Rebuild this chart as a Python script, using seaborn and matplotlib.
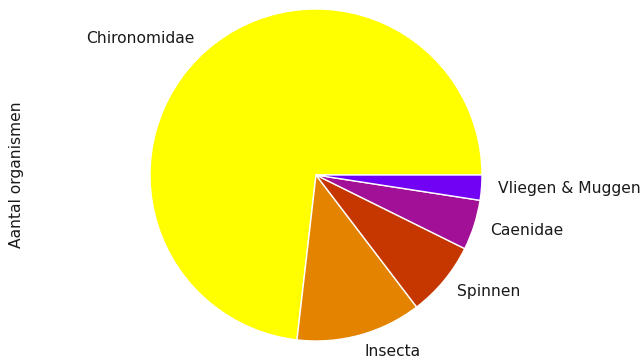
import matplotlib
matplotlib.use("Agg")
import matplotlib.pyplot as plt
import seaborn as sns
import numpy as np
import pandas as pd

categories = ["Chironomidae", "Insecta", "Spinnen", "Caenidae", "Vliegen & Muggen"]
counts = [30, 5, 3, 2, 1]
ylabel = "Aantal organismen"

sns.set_style("white")
plt.rcParams['font.family'] = ['DejaVu Sans']
plt.rcParams['text.color'] = '#1a1a1a'
plt.rcParams['axes.labelcolor'] = '#1a1a1a'

df = pd.DataFrame({"categorie": categories, "aantal": counts})
cmap = plt.get_cmap("gnuplot")
colors = [cmap(v) for v in [1.0, 0.8, 0.6, 0.4, 0.2]]

W, H = 642, 362
fig = plt.figure(figsize=(W / 100, H / 100), dpi=100)
# axes box in pixels: center (316,175), height 415 (radius 166 px)
cx, cy, r = 316, 175, 166
ah = 2.5 * r
aw = 2 * (cx - 30)
ax = fig.add_axes([(cx - aw / 2) / W, (H - cy - ah / 2) / H, aw / W, ah / H])
ax.pie(df["aantal"], labels=df["categorie"], colors=colors,
       textprops={"fontsize": 11.2})
ax.set_aspect("equal", adjustable="datalim")
ax.set_ylim(-1.25, 1.25)
ax.set_ylabel(ylabel, fontsize=11.2)
fig.savefig("out.png", dpi=100)
